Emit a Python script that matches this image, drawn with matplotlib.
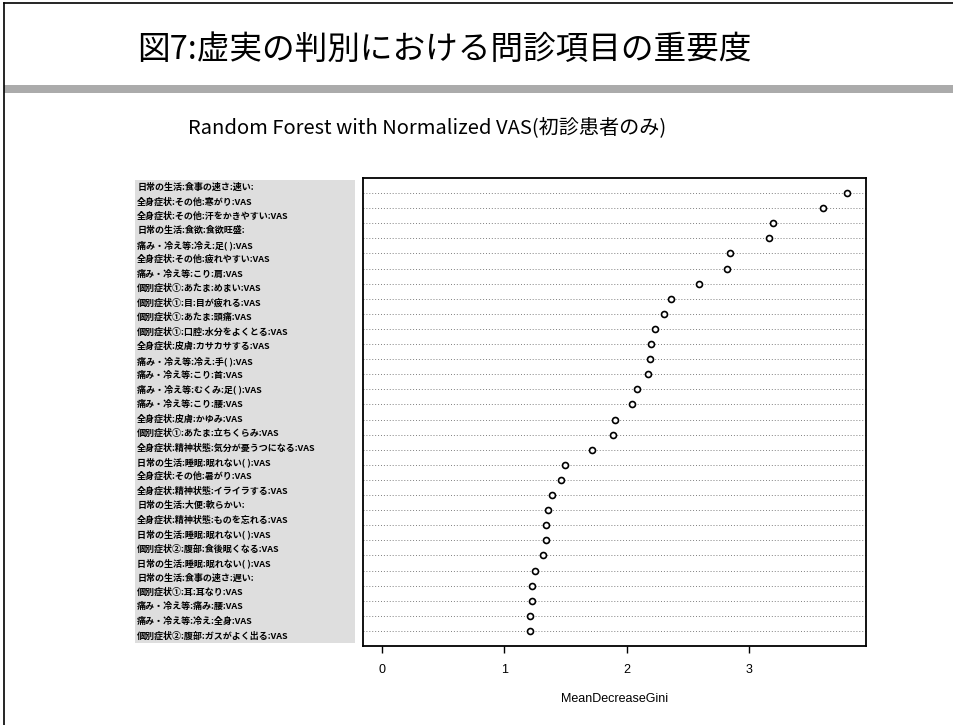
import numpy as np
import matplotlib
matplotlib.use("Agg")
import matplotlib.pyplot as plt
from matplotlib.patches import Rectangle
from matplotlib.lines import Line2D

plt.rcParams['font.family'] = ['Noto Sans CJK JP', 'DejaVu Sans']

# labels of the pasted-in name panel (top to bottom)
labels = [
    "日常の生活:食事の速さ:速い:",
    "全身症状:その他:寒がり:VAS",
    "全身症状:その他:汗をかきやすい:VAS",
    "日常の生活:食欲:食欲旺盛:",
    "痛み・冷え等:冷え:足( ):VAS",
    "全身症状:その他:疲れやすい:VAS",
    "痛み・冷え等:こり:肩:VAS",
    "個別症状①:あたま:めまい:VAS",
    "個別症状①:目:目が疲れる:VAS",
    "個別症状①:あたま:頭痛:VAS",
    "個別症状①:口腔:水分をよくとる:VAS",
    "全身症状:皮膚:カサカサする:VAS",
    "痛み・冷え等:冷え:手( ):VAS",
    "痛み・冷え等:こり:首:VAS",
    "痛み・冷え等:むくみ:足( ):VAS",
    "痛み・冷え等:こり:腰:VAS",
    "全身症状:皮膚:かゆみ:VAS",
    "個別症状①:あたま:立ちくらみ:VAS",
    "全身症状:精神状態:気分が憂うつになる:VAS",
    "日常の生活:睡眠:眠れない( ):VAS",
    "全身症状:その他:暑がり:VAS",
    "全身症状:精神状態:イライラする:VAS",
    "日常の生活:大便:軟らかい:",
    "全身症状:精神状態:ものを忘れる:VAS",
    "日常の生活:睡眠:眠れない( ):VAS",
    "個別症状②:腹部:食後眠くなる:VAS",
    "日常の生活:睡眠:眠れない( ):VAS",
    "日常の生活:食事の速さ:遅い:",
    "個別症状①:耳:耳なり:VAS",
    "痛み・冷え等:痛み:腰:VAS",
    "痛み・冷え等:冷え:全身:VAS",
    "個別症状②:腹部:ガスがよく出る:VAS",
]

# MeanDecreaseGini of the 30 plotted variables (top to bottom)
gini = [3.80, 3.60, 3.19, 3.16, 2.84, 2.82, 2.59, 2.36, 2.30, 2.23,
        2.20, 2.19, 2.17, 2.08, 2.04, 1.90, 1.89, 1.72, 1.50, 1.46,
        1.39, 1.36, 1.34, 1.34, 1.32, 1.25, 1.23, 1.23, 1.21, 1.21]

xticks = [0, 1, 2, 3]

W, H = 954, 725
fig = plt.figure(figsize=(W / 100, H / 100), dpi=100)


def box(x0, y0, x1, y1):
    # pixel box -> figure fraction rect
    return [x0 / W, 1 - y1 / H, (x1 - x0) / W, (y1 - y0) / H]


# slide frame
fig.add_artist(Line2D([4 / W, 4 / W], [0, 1 - 3 / H], color='black', lw=1.2))
fig.add_artist(Line2D([4 / W, 1], [1 - 3 / H, 1 - 3 / H], color='black', lw=1.2))
fig.add_artist(Rectangle((4 / W, 1 - 93 / H), 1, 8 / H, transform=fig.transFigure,
                         facecolor='#ababab', edgecolor='none'))

fig.text(137 / W, 1 - 50 / H, "図7:虚実の判別における問診項目の重要度",
         fontsize=23.5, ha='left', va='center')
fig.text(427 / W, 1 - 128 / H, "Random Forest with Normalized VAS(初診患者のみ)",
         fontsize=14.5, ha='center', va='center')

# name panel
lax = fig.add_axes(box(135, 180, 355, 643))
lax.set_facecolor('#dedede')
for s in lax.spines.values():
    s.set_visible(False)
lax.set_xticks([])
lax.set_yticks([])
lax.set_xlim(0, 1)
lax.set_ylim(0.5, len(labels) + 0.5)
for i, lab in enumerate(labels):
    lax.text(0.01, len(labels) - i, lab, fontsize=6.5, fontweight='bold',
             ha='left', va='center')

# dot chart
ax = fig.add_axes(box(363, 178, 866, 646))
n = len(gini)
ypos = np.arange(n, 0, -1)
xmax = max(gini)
xl = (-0.04 * xmax, 1.04 * xmax)
ax.hlines(ypos, xl[0], xl[1], colors='#808080', linestyles=(0, (1, 2)), lw=0.7)
ax.plot(gini, ypos, 'o', mfc='white', mec='black', ms=4.3, mew=1.2)
ax.set_xlim(xl)
ax.set_ylim(0, n + 1)
ax.set_yticks([])
ax.set_xticks(xticks)
ax.set_xticklabels([str(t) for t in xticks], family='Liberation Sans', fontsize=9)
ax.tick_params(axis='x', length=5, width=1, pad=8)
for s in ax.spines.values():
    s.set_linewidth(1.3)
ax.set_xlabel("MeanDecreaseGini", family='Liberation Sans', fontsize=9, labelpad=12)

fig.savefig("out.png", dpi=100)
